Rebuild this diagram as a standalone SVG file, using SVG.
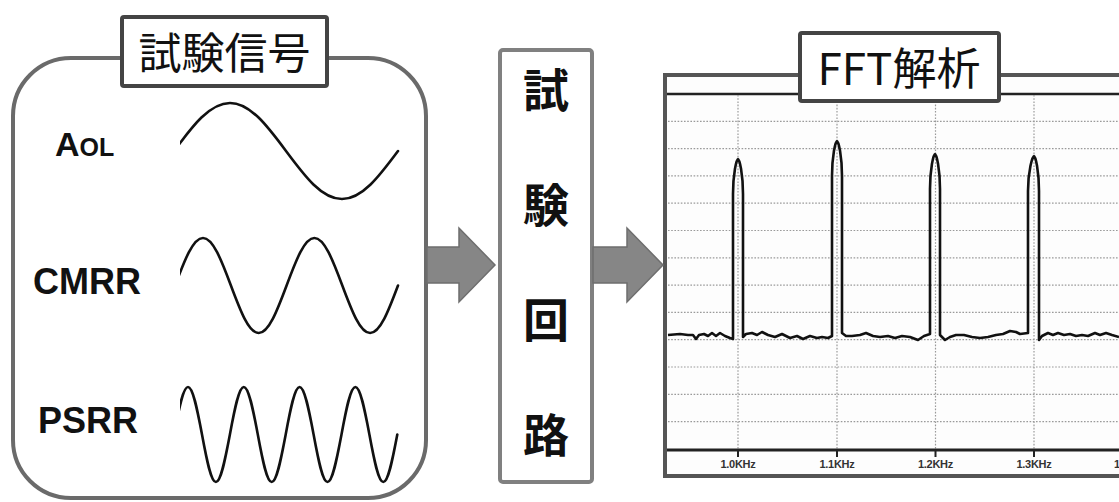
<svg xmlns="http://www.w3.org/2000/svg" width="1119" height="502" viewBox="0 0 1119 502">
  <style>
    .jp { font-family: "Noto Sans CJK JP", "Liberation Sans", sans-serif; fill: #111; }
    .lbl { font-family: "Liberation Sans", Arial, sans-serif; font-weight: bold; fill: #111; }
    .wave { fill: none; stroke: #111; stroke-width: 2.6; stroke-linejoin: round; stroke-linecap: round; }
    .grid { stroke: #9a9a9a; stroke-width: 1.2; stroke-dasharray: 1.6 1.6; fill: none; }
    .trace { fill: none; stroke: #111; stroke-width: 2.6; stroke-linejoin: round; }
    .axl { font-family: "Liberation Sans", Arial, sans-serif; font-weight: bold; font-size: 11px; fill: #333; text-anchor: middle; letter-spacing: -0.3px; }
    .arrow { fill: #868686; stroke: #6e6e6e; stroke-width: 1.5; }
    .title { fill: #fff; stroke: #444; stroke-width: 4; }
  </style>
  <defs>
    <clipPath id="waveclip"><rect x="180" y="0" width="220" height="502"/></clipPath>
  </defs>
  <rect width="1119" height="502" fill="#fff"/>

  <g id="test-signals">
    <rect x="13" y="58" width="413" height="440" rx="58" ry="58" fill="#fff" stroke="#6a6a6a" stroke-width="4"/>
    <rect class="title" x="122" y="17" width="205" height="69" rx="2"/>
    <text class="jp" x="224.5" y="69" font-size="43" text-anchor="middle">試験信号</text>
    <text class="lbl" x="55" y="156" font-size="34">A<tspan font-size="25">OL</tspan></text>
    <text class="lbl" x="33" y="294" font-size="36">CMRR</text>
    <text class="lbl" x="38" y="433" font-size="36">PSRR</text>
    <g clip-path="url(#waveclip)">
      <path class="wave" d="M174,151 C192.7,125.8 209.8,103 230,103 C250.2,103 267.3,125.8 286,151 C304.7,176.2 321.8,199 342,199 C362.2,199 379.3,176.2 398,151"/>
      <path class="wave" d="M175.1,285.5 C184.4,260.6 193,238 203,238 C213,238 221.6,260.6 230.9,285.5 C240.2,310.4 248.7,333 258.7,333 C268.7,333 277.3,310.4 286.6,285.5 C295.9,260.6 304.4,238 314.4,238 C324.4,238 333,260.6 342.3,285.5 C351.6,310.4 360.1,333 370.1,333 C380.1,333 388.7,310.4 398,285.5"/>
      <path class="wave" d="M174.1,434.5 C178.7,409.6 183,387 188,387 C193,387 197.3,409.6 202,434.5 C206.6,459.4 210.9,482 215.9,482 C220.9,482 225.2,459.4 229.9,434.5 C234.5,409.6 238.8,387 243.8,387 C248.8,387 253.1,409.6 257.8,434.5 C262.4,459.4 266.7,482 271.7,482 C276.7,482 281,459.4 285.7,434.5 C290.3,409.6 294.6,387 299.6,387 C304.6,387 308.9,409.6 313.6,434.5 C318.2,459.4 322.5,482 327.5,482 C332.5,482 336.8,459.4 341.5,434.5 C346.1,409.6 350.4,387 355.4,387 C360.4,387 364.7,409.6 369.4,434.5 C374,459.4 378.3,482 383.3,482 C388.3,482 392.6,459.4 397.3,434.5"/>
    </g>
  </g>

  <g id="test-circuit">
    <rect x="500" y="50" width="92" height="432" rx="3" fill="#fff" stroke="#808080" stroke-width="4"/>
    <text class="jp" x="546" y="107" font-size="46" font-weight="bold" text-anchor="middle">試</text>
    <text class="jp" x="546" y="222" font-size="46" font-weight="bold" text-anchor="middle">験</text>
    <text class="jp" x="546" y="337" font-size="46" font-weight="bold" text-anchor="middle">回</text>
    <text class="jp" x="546" y="452" font-size="46" font-weight="bold" text-anchor="middle">路</text>
  </g>

  <g id="fft-analysis">
    <rect x="665" y="75" width="500" height="401" fill="#fdfdfd" stroke="#555" stroke-width="4"/>
    <line x1="667" y1="94" x2="1119" y2="94" stroke="#222" stroke-width="2.5"/>
    <g class="grid">
      <path d="M668,121.3H1119 M668,148.6H1119 M668,175.9H1119 M668,203.2H1119 M668,230.5H1119 M668,257.8H1119 M668,285.1H1119 M668,312.4H1119 M668,339.7H1119 M668,367H1119 M668,394.3H1119 M668,421.6H1119"/>
      <path d="M738,95V449 M837,95V449 M935.5,95V449 M1034,95V449"/>
    </g>
    <line x1="667" y1="450" x2="1119" y2="450" stroke="#222" stroke-width="3"/>
    <path d="M738,450V457 M837,450V457 M935.5,450V457 M1034,450V457" stroke="#222" stroke-width="2"/>
    <text class="axl" x="738" y="468">1.0KHz</text>
    <text class="axl" x="837" y="468">1.1KHz</text>
    <text class="axl" x="935.5" y="468">1.2KHz</text>
    <text class="axl" x="1034" y="468">1.3KHz</text>
    <text class="axl" x="1117" y="468">1</text>
    <path class="trace" d="M668,335 L680,334 L688,335 L693,335 L696,339 L699,335 L704,334 L708,336 L712,333 L716,336 L720,333 L725,336 L730,338 L733,339
      L733,194 C733,174 736.5,159 738,159 C739.5,159 743,174 743,194 L743,337
      L746,334 L752,333 L757,335 L762,332 L768,335 L775,337 L782,334 L790,338 L797,336 L803,339 L810,336 L817,338 L822,337 L828,338 L832,336
      L832,176 C832,156 835.5,141 837,141 C838.5,141 842,156 842,176 L842,333
      L846,336 L852,336 L860,335 L866,333 L873,336 L880,337 L888,336 L895,338 L902,336 L910,337 L918,340 L924,336 L930,334
      L930,189 C930,169 933.5,154 935,154 C936.5,154 940,169 940,189 L940,335
      L945,340 L950,337 L956,335 L964,335 L972,337 L980,338 L988,337 L996,335 L1003,334 L1010,331 L1016,332 L1020,334 L1028,333
      L1028,191 C1028,171 1032.5,156 1034,156 C1035.5,156 1039,171 1039,191 L1039,340
      L1042,336 L1048,333 L1053,335 L1058,333 L1064,335 L1070,334 L1076,336 L1082,335 L1088,336 L1095,333 L1100,335 L1106,333 L1112,335 L1119,337"/>
    <rect class="title" x="800" y="33" width="199" height="68" rx="2"/>
    <text class="jp" x="899" y="85" font-size="44" text-anchor="middle">FFT解析</text>
  </g>

  <g id="connectors">
    <polygon class="arrow" points="427,247 459,247 459,228 495,265 459,302 459,283 427,283"/>
    <polygon class="arrow" points="593,247 627,247 627,228 663,265 627,302 627,283 593,283"/>
  </g>
</svg>
